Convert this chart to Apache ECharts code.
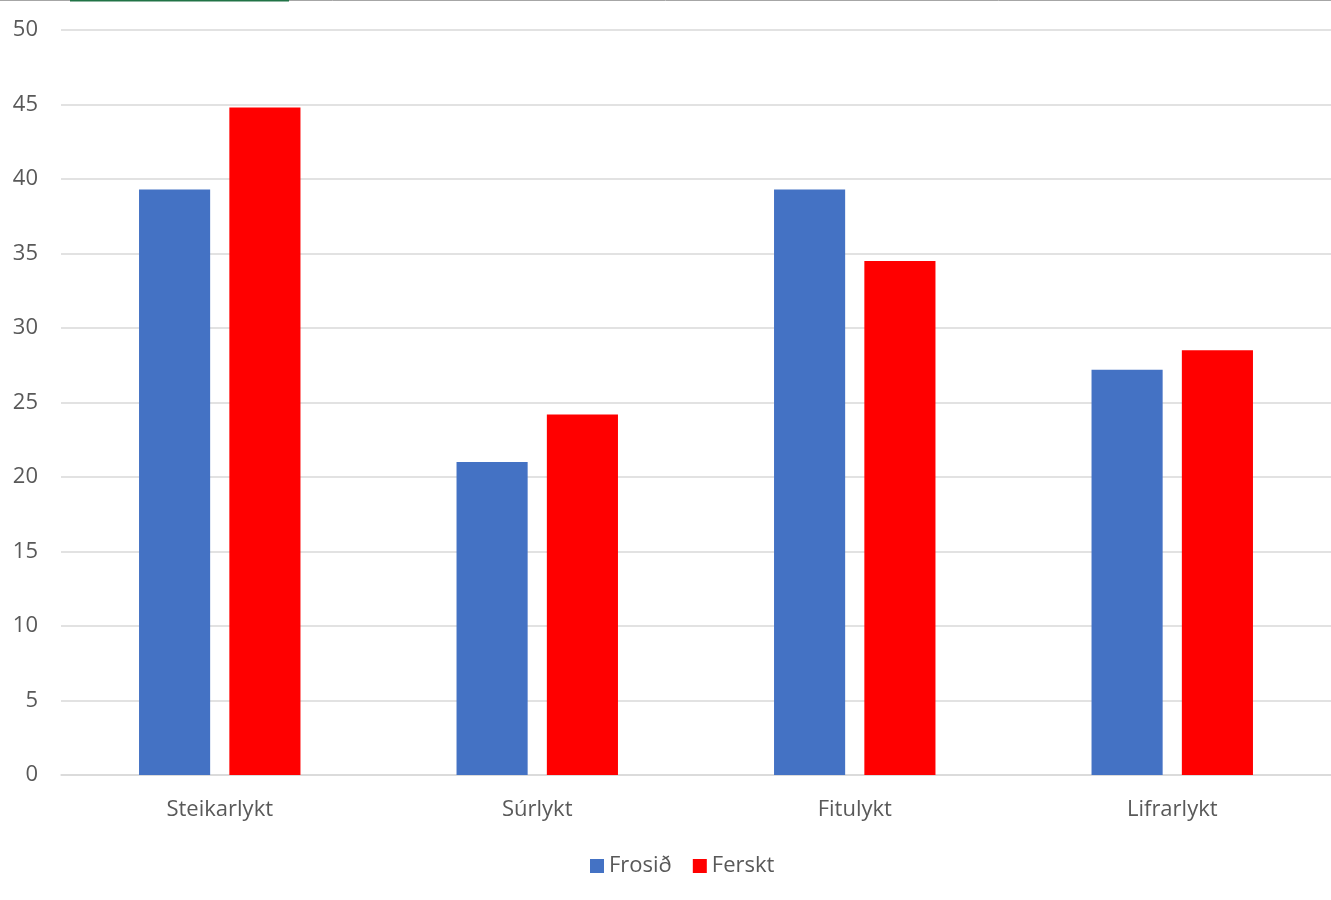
<!DOCTYPE html>
<html>
<head>
<meta charset="utf-8">
<script src="https://cdn.jsdelivr.net/npm/echarts@6/dist/echarts.min.js"></script>
<style>html,body{margin:0;padding:0;background:#fff;}#c{width:1331px;height:900px;}</style>
</head>
<body>
<div id="c"></div>
<script>
const categories = ['Steikarlykt', 'Súrlykt', 'Fitulykt', 'Lifrarlykt'];
const frosid = [39.3, 21.0, 39.3, 27.2];
const ferskt = [44.8, 24.2, 34.5, 28.5];
const seriesNames = ['Frosið', 'Ferskt'];

const chart = echarts.init(document.getElementById('c'));
const font = '"Open Sans", "Noto Sans", sans-serif';
chart.setOption({
  animation: false,
  backgroundColor: '#fff',
  grid: { left: 61, right: 0, top: 30, bottom: 125, containLabel: false },
  legend: {
    top: 850, left: 585,
    itemWidth: 14, itemHeight: 14, itemGap: 21,
    icon: 'rect',
    textStyle: { color: '#595959', fontSize: 22, fontFamily: font },
    data: seriesNames
  },
  graphic: [
    { type: 'line', shape: { x1: 0, y1: 0.5, x2: 1331, y2: 0.5 }, style: { stroke: '#a6a6a6', lineWidth: 1 }, silent: true },
    { type: 'line', shape: { x1: 70, y1: 0.5, x2: 289, y2: 0.5 }, style: { stroke: '#217346', lineWidth: 2 }, silent: true }
  ],
  xAxis: {
    type: 'category',
    data: categories,
    axisLine: { show: true, lineStyle: { color: '#d9d9d9', width: 1.5 } },
    axisTick: { show: false },
    axisLabel: { color: '#595959', fontSize: 22, fontFamily: font, margin: 24 }
  },
  yAxis: {
    type: 'value', min: 0, max: 50, interval: 5,
    axisLine: { show: false }, axisTick: { show: false },
    splitLine: { lineStyle: { color: '#d9d9d9', width: 1.5 } },
    axisLabel: { color: '#595959', fontSize: 22, fontFamily: font, margin: 23, padding: [2, 0, 0, 0] }
  },
  series: [
    { name: seriesNames[0], type: 'bar', data: frosid, barWidth: '22.4%', barGap: '27%', itemStyle: { color: '#4472c4' } },
    { name: seriesNames[1], type: 'bar', data: ferskt, barWidth: '22.4%', itemStyle: { color: '#ff0000' } }
  ]
});
</script>
</body>
</html>
